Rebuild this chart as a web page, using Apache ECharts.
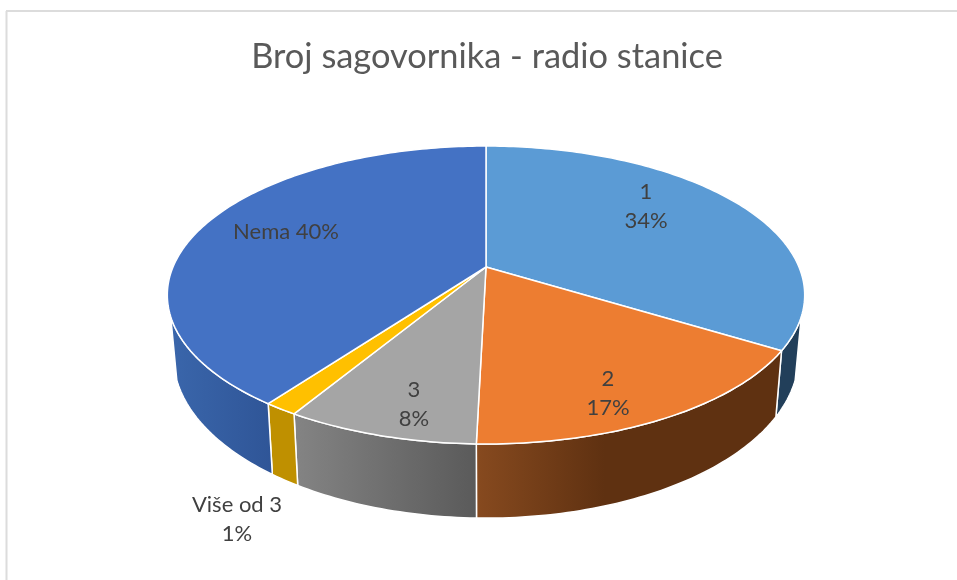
<!DOCTYPE html>
<html><head><meta charset="utf-8">
<style>html,body{margin:0;padding:0;background:#fff}#c{width:957px;height:580px}</style>
<script src="https://cdn.jsdelivr.net/npm/echarts@6/dist/echarts.min.js"></script>
</head><body><div id="c"></div>
<script>
const titleText = 'Broj sagovornika - radio stanice';
const categories = ['1', '2', '3', 'Više od 3', 'Nema'];
const shareValues = [33.8, 16.6, 8.2, 1.45, 39.95];

// styling and layout, separate from the data
const topColors = ['#5B9BD5', '#ED7D31', '#A5A5A5', '#FFC000', '#4472C4'];
const wallColors = [
  [[0, '#223F5A'], [1, '#223F5A']],
  [[0, '#874A1F'], [0.42, '#5F3111'], [1, '#5F3111']],
  [[0, '#848484'], [1, '#5A5A5A']],
  [[0, '#BF9000'], [1, '#BF9000']],
  [[0, '#3A66AB'], [1, '#2F5597']]
];
const labelAnchors = [[646, 206], [608, 393], [414, 404], [237, 519], [286, 232]];
const labelSingleLine = [false, false, false, false, true];

const CX = 486, K = -0.188;
const TOP = {y: 267, ry: 143.7, rx: 313};
const BOT = {y: 326, ry: 156, rx: 307};
const WALL_FROM = 109, WALL_TO = 251;

function project(deg, plane) {
  const t = deg * Math.PI / 180, u = Math.sin(t), v = -Math.cos(t), w = 1 + K * v;
  return [CX + plane.rx * u / w, plane.y + plane.ry * v / w];
}
function arc(a, b, plane) {
  const n = Math.max(2, Math.ceil(Math.abs(b - a) / 1)), pts = [];
  for (let i = 0; i <= n; i++) pts.push(project(a + (b - a) * i / n, plane));
  return pts;
}
const total = shareValues.reduce((s, x) => s + x, 0);

function renderItem(params, api) {
  const i = params.dataIndex;
  let start = 0;
  for (let j = 0; j < i; j++) start += shareValues[j];
  const a = start / total * 360, b = (start + api.value(0)) / total * 360;
  const children = [];
  const wa = Math.max(a, WALL_FROM), wb = Math.min(b, WALL_TO);
  if (wb > wa) {
    const pts = arc(wa, wb, TOP).concat(arc(wb, wa, BOT));
    children.push({
      type: 'polygon', shape: {points: pts},
      style: {
        fill: {type: 'linear', x: 0, y: 0, x2: 1, y2: 0,
          colorStops: wallColors[i].map(s => ({offset: s[0], color: s[1]}))},
        stroke: '#fff', lineWidth: 1.5, lineJoin: 'round'
      }, z2: 1
    });
  }
  const top = [project(0, {y: TOP.y, ry: 0, rx: 0})].concat(arc(a, b, TOP));
  children.push({
    type: 'polygon', shape: {points: top},
    style: {fill: topColors[i], stroke: '#fff', lineWidth: 1.5, lineJoin: 'round'}, z2: 2
  });
  const pct = Math.round(api.value(0) / total * 100) + '%';
  const txt = categories[i] + (labelSingleLine[i] ? ' ' : '\n') + pct;
  children.push({
    type: 'text', x: labelAnchors[i][0], y: labelAnchors[i][1], z2: 10,
    style: {text: txt, fill: '#404040', font: '22px Lato', align: 'center',
      verticalAlign: 'middle', lineHeight: 29}
  });
  return {type: 'group', children};
}

const chart = echarts.init(document.getElementById('c'), null, {renderer: 'canvas'});
chart.setOption({
  animation: false,
  backgroundColor: '#fff',
  title: {text: titleText, left: 482, top: 35, textAlign: 'center',
    textStyle: {fontFamily: 'Lato', fontWeight: 'normal', fontSize: 34.4, color: '#595959'}},
  graphic: [
    {type: 'line', shape: {x1: 6.5, y1: 11, x2: 6.5, y2: 580}, style: {stroke: '#DCDCDC', lineWidth: 2}},
    {type: 'line', shape: {x1: 6, y1: 11, x2: 957, y2: 11}, style: {stroke: '#DCDCDC', lineWidth: 2}}
  ],
  series: [{
    type: 'custom', coordinateSystem: 'none', renderItem,
    data: shareValues.map((v, i) => ({name: categories[i], value: v}))
  }]
});
</script></body></html>
